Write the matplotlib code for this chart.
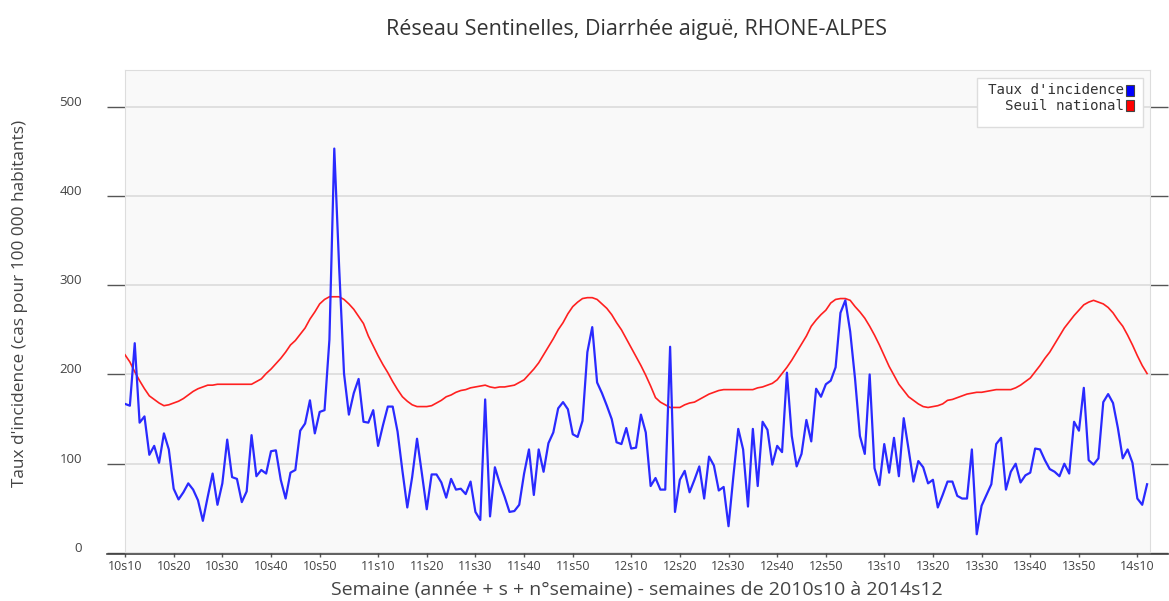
import matplotlib.pyplot as plt
from matplotlib.lines import Line2D
from matplotlib.patches import Rectangle
from matplotlib.transforms import ScaledTranslation
import numpy as np

plt.rcParams['font.family'] = ['Open Sans', 'DejaVu Sans']

# taux d'incidence hebdomadaire, de 2010s10 à 2014s12
taux = [
    167, 165, 235, 146, 153, 110, 120, 101, 134, 116,
    72, 60, 68, 78, 71, 59, 36, 63, 89, 54,
    78, 127, 85, 83, 57, 69, 132, 86, 93, 89,
    114, 115, 82, 61, 90, 93, 137, 145, 171, 134,
    158, 160, 239, 453, 320, 201, 155, 179, 195, 147,
    146, 160, 120, 143, 164, 164, 136, 92, 51, 85,
    128, 89, 49, 88, 88, 79, 62, 83, 71, 72,
    66, 80, 46, 37, 172, 41, 96, 78, 63, 46,
    47, 54, 89, 116, 65, 116, 91, 123, 135, 162,
    169, 161, 133, 130, 148, 225, 253, 191, 179, 165,
    150, 124, 122, 140, 117, 118, 155, 135, 75, 84,
    71, 71, 231, 46, 82, 92, 68, 82, 97, 61,
    108, 98, 70, 74, 30, 86, 139, 116, 52, 139,
    75, 147, 138, 99, 120, 113, 202, 131, 97, 111,
    149, 125, 184, 175, 189, 193, 208, 269, 283, 248,
    195, 131, 111, 200, 95, 76, 122, 90, 129, 86,
    151, 116, 80, 103, 96, 78, 82, 51, 65, 80,
    80, 64, 61, 61, 116, 21, 53, 65, 77, 122,
    129, 71, 91, 100, 79, 87, 90, 117, 116, 104,
    94, 91, 86, 100, 89, 147, 137, 185, 104, 99,
    106, 169, 178, 168, 140, 106, 116, 101, 61, 54,
    77,
]

# seuil épidémique national
seuil = [
    222, 214, 203, 193, 184, 176, 172, 168, 165, 166,
    168, 170, 173, 177, 181, 184, 186, 188, 188, 189,
    189, 189, 189, 189, 189, 189, 189, 192, 195, 201,
    206, 212, 218, 225, 233, 238, 245, 252, 262, 270,
    279, 284, 287, 287, 287, 284, 279, 273, 265, 257,
    243, 232, 221, 211, 202, 192, 183, 175, 170, 166,
    164, 164, 164, 165, 168, 171, 175, 177, 180, 182,
    183, 185, 186, 187, 188, 186, 185, 186, 186, 187,
    188, 191, 194, 200, 206, 213, 222, 231, 240, 250,
    258, 268, 276, 281, 285, 286, 286, 284, 279, 274,
    267, 258, 250, 240, 230, 220, 210, 199, 187, 174,
    169, 166, 163, 163, 163, 166, 168, 169, 172, 175,
    178, 180, 182, 183, 183, 183, 183, 183, 183, 183,
    185, 186, 188, 190, 194, 201, 208, 216, 225, 234,
    243, 254, 261, 267, 272, 280, 284, 285, 285, 283,
    276, 270, 263, 254, 244, 233, 221, 209, 199, 189,
    182, 175, 171, 167, 164, 163, 164, 165, 167, 171,
    172, 174, 176, 178, 179, 180, 180, 181, 182, 183,
    183, 183, 183, 185, 188, 192, 196, 203, 210, 218,
    225, 234, 243, 252, 259, 266, 272, 278, 281, 283,
    281, 279, 275, 269, 261, 254, 244, 233, 221, 210,
    201,
]

# semaines (année, n° semaine)
semaines = [(2010, w) for w in range(10, 53)]
for an in (2011, 2012, 2013):
    semaines += [(an, w) for w in range(1, 53)]
semaines += [(2014, w) for w in range(1, 13)]

pos = [i for i, (a, w) in enumerate(semaines) if w % 10 == 0]
etiquettes = ['%02ds%02d' % (a % 100, w) for a, w in semaines if w % 10 == 0]

W, H = 1169, 601
fig = plt.figure(figsize=(W / 100, H / 100), dpi=100)
ax = fig.add_axes([125 / W, 1 - 553 / H, 1025 / W, 483 / H])
ax.set_facecolor('#f9f9f9')

x = np.arange(len(taux))
ax.plot(x, seuil, color='#ff2020', lw=1.2, zorder=3)
ax.plot(x, taux, color='#2a2aff', lw=1.6, zorder=4)

ax.set_xlim(0, 210.6)
ax.set_ylim(0, 541)

ax.set_yticks(range(0, 600, 100))
ax.yaxis.grid(True, color='#e0e0e0', lw=1.4)
ax.set_axisbelow(True)
ax.tick_params(axis='y', which='both', left=True, right=True, direction='out',
               length=13, width=1, color='#555555', labelsize=9.5,
               labelcolor='#444444', pad=18)
off = ScaledTranslation(0, 6 / 100, fig.dpi_scale_trans)
for lab in ax.get_yticklabels():
    lab.set_transform(lab.get_transform() + off)

ax.set_xticks(pos)
ax.set_xticklabels(etiquettes)
ax.tick_params(axis='x', direction='out', length=3, width=1, color='#555555',
               labelsize=9, labelcolor='#444444', pad=2)

for s in ('top', 'left', 'right'):
    ax.spines[s].set_color('#dddddd')
ax.spines['bottom'].set_visible(False)
fig.add_artist(Line2D([107 / W, 1168 / W], [1 - 553.5 / H] * 2,
                      color='#444444', lw=1.2))

fig.text(636 / W, 1 - 29 / H, 'Réseau Sentinelles, Diarrhée aiguë, RHONE-ALPES',
         ha='center', va='center', fontsize=15.5, color='#333333')
fig.text(637 / W, 1 - 590 / H,
         'Semaine (année + s + n°semaine) - semaines de 2010s10 à 2014s12',
         ha='center', va='center', fontsize=14, color='#444444')
fig.text(20 / W, 1 - 303 / H, "Taux d'incidence (cas pour 100 000 habitants)",
         ha='center', va='center', rotation=90, fontsize=12.4, color='#444444')

# légende
box = Rectangle((977 / W, 1 - 127 / H), 166 / W, 49 / H, transform=fig.transFigure,
                facecolor='white', edgecolor='#dddddd', lw=1, zorder=5)
fig.add_artist(box)
for k, (txt, col) in enumerate([("Taux d'incidence", '#0000ff'),
                                ('Seuil national', '#ff0000')]):
    yc = 90.5 + 15 * k
    fig.text(1124 / W, 1 - yc / H, txt, ha='right', va='center',
             family='DejaVu Sans Mono', fontsize=10.2, color='#333333', zorder=6)
    fig.add_artist(Rectangle((1126 / W, 1 - (yc + 5.5) / H), 8 / W, 11 / H,
                             transform=fig.transFigure, facecolor=col,
                             edgecolor='#444444', lw=0.8, zorder=6))

fig.savefig('out.png', dpi=100)
